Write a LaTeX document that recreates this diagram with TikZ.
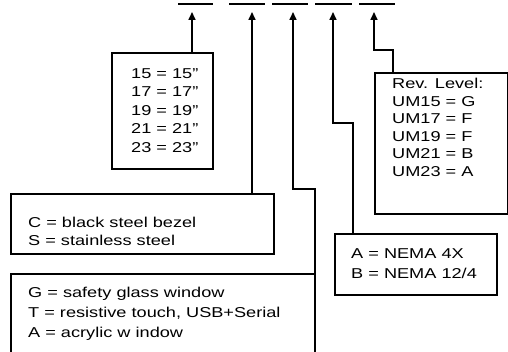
\documentclass[tikz,border=0pt]{standalone}
\usepackage{fontspec}
\setmainfont{Liberation Sans}[FakeStretch=1.27]
\usetikzlibrary{calc}
\usetikzlibrary{arrows.meta}
\tikzset{
  box/.style = {draw=black, line width=1.8pt, inner sep=0pt, anchor=north west},
  txt/.style = {inner sep=0pt, anchor=north west, align=left, text=black, font=\fontsize{14.3}{#1}\selectfont},
  arr/.style = {color=#1, line width=1.6pt, -{Triangle[length=8pt,width=7pt]}},
  blank/.style = {color=#1, line width=1.6pt}
}

\begin{document}
\begin{tikzpicture}[x=1pt,y=-1pt]

    \useasboundingbox (0,0) rectangle (508,352);
    \clip (0,0) rectangle (508,352);

    % Blanks of the part number
    \draw[blank={black}] (178,4) -- (213,4);
    \draw[blank={black}] (229,4) -- (265,4);
    \draw[blank={black}] (272,4) -- (308,4);
    \draw[blank={black}] (315,4) -- (352,4);
    \draw[blank={black}] (359,4) -- (395,4);

    % Arrow tips
    \coordinate (t1) at (192,12);
    \coordinate (t2) at (252,12);
    \coordinate (t3) at (293,12);
    \coordinate (t4) at (333,12);
    \coordinate (t5) at (374,12);

    % Boxes
    \node[box, minimum width=101pt, minimum height=116pt] (size) at (111,52) {};
    \node[box, minimum width=263pt, minimum height=60pt] (bezel) at (10,193) {};
    \node[box, minimum width=304pt, minimum height=100pt] (window) at (10,273) {};
    \node[box, minimum width=162pt, minimum height=61pt] (nema) at (334,233) {};
    \node[box, minimum width=132.5pt, minimum height=141pt] (rev) at (374,72) {};

    % Texts
    \node[txt={18.5pt}] (size-t) at ($(size.north west)+(20,16)$)
      {15 = 15”\\17 = 17”\\19 = 19”\\21 = 21”\\23 = 23”};
    \node[txt={18pt}] (bezel-t) at ($(bezel.north west)+(18,24)$)
      {C = black steel bezel\\S = stainless steel};
    \node[txt={20pt}] (window-t) at ($(window.north west)+(18,14)$)
      {G = safety glass window\\T = resistive touch, USB+Serial\\A = acrylic w indow};
    \node[txt={20pt}] (nema-t) at ($(nema.north west)+(17,15)$)
      {A = NEMA 4X\\B = NEMA 12/4};
    \node[txt={17.6pt}] (rev-t) at ($(rev.north west)+(18,6)$)
      {Rev. Level:\\UM15 = G\\UM17 = F\\UM19 = F\\UM21 = B\\UM23 = A};

    % Leaders
    \draw[arr={black}] (size.north -| t1) -- (t1);
    \draw[arr={black}] (bezel.north -| t2) -- (t2);
    \draw[arr={black}] ($(window.north east)+(-1,0)$) -- ++(0,-84) -| (t3);
    \draw[arr={black}] ($(nema.north west)+(19,0)$) -- ++(0,-110) -| (t4);
    \draw[arr={black}] ($(rev.north west)+(19,0)$) -- ++(0,-22) -| (t5);

\end{tikzpicture}
\end{document}
